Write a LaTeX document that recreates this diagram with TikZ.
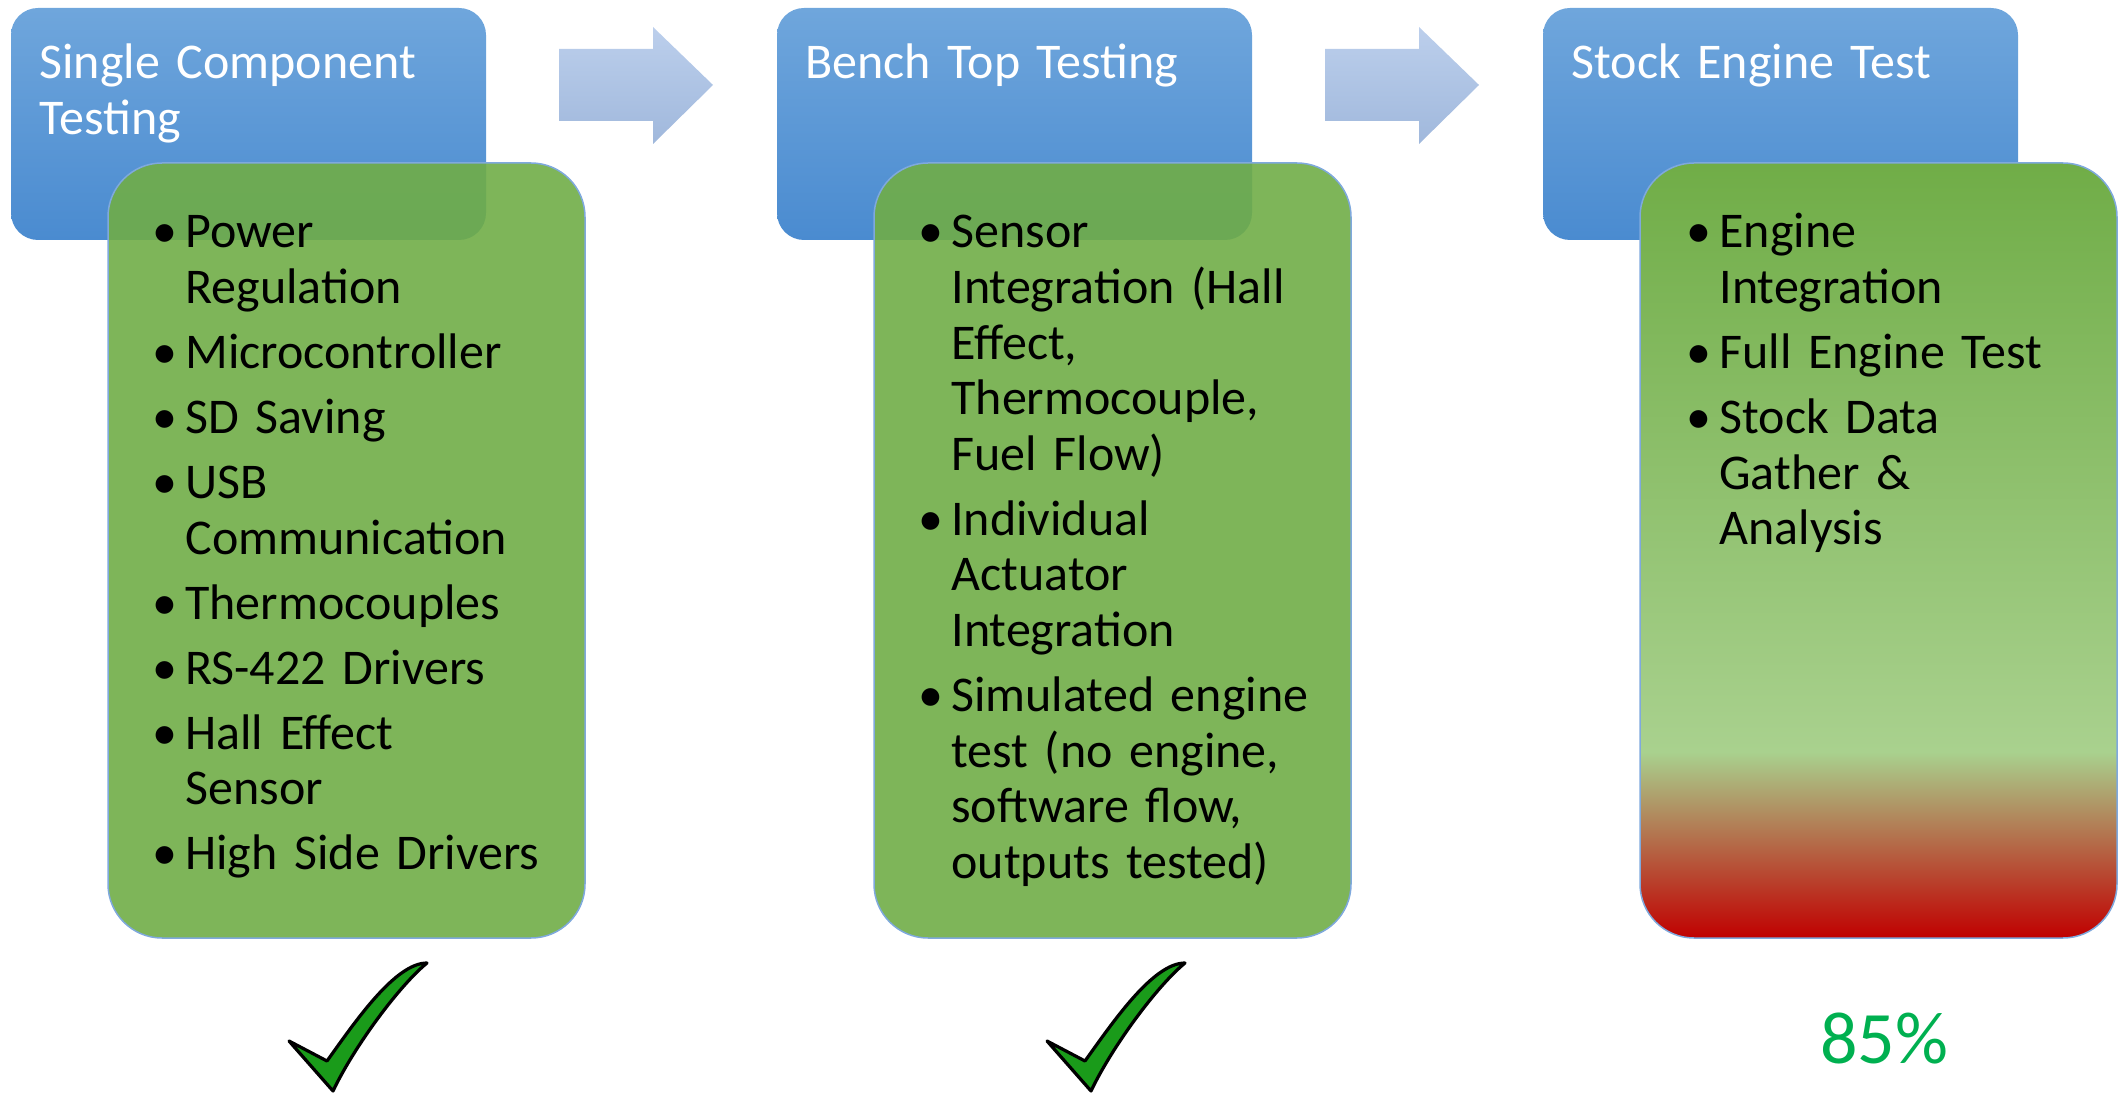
\documentclass[tikz,border=0pt]{standalone}
\usepackage{fontspec}
\setmainfont{Carlito}
\definecolor{blueTop}{HTML}{6FA6DC}
\definecolor{blueBot}{HTML}{4A8BD0}
\definecolor{greenF}{HTML}{70AD47}
\definecolor{greenBorder}{HTML}{7FA9DD}
\definecolor{arrTop}{HTML}{BCCFEC}
\definecolor{arrBot}{HTML}{A0B8DC}
\definecolor{sred}{HTML}{C00000}
\definecolor{slgreen}{HTML}{A9D18E}
\definecolor{sgreen}{HTML}{70AD47}
\definecolor{tickgreen}{HTML}{1A9B1A}
\definecolor{pctgreen}{HTML}{00B050}
\pgfdeclareverticalshading{engineshade}{100bp}{color(0bp)=(sred); color(25bp)=(sred); color(37bp)=(slgreen); color(75bp)=(sgreen); color(100bp)=(sgreen)}
\newcommand\nl{\hfil\break}
\newcommand\bitem[1]{\leavevmode\llap{\makebox[16.5pt][l]{\textbullet}}#1\par}
\newcommand\lstbody[1]{\setlength{\parskip}{4.7pt}\leftskip=16.5pt\relax#1}
\begin{document}
\begin{tikzpicture}[x=0.5pt,y=-0.5pt,
  bluebox/.style={rectangle, rounded corners=13.5pt, top color=blueTop, bottom color=blueBot,
    minimum width=237.5pt, minimum height=116pt, anchor=north west, inner sep=0pt, outer sep=0pt},
  greenbase/.style={rectangle, rounded corners=27pt, draw=greenBorder, line width=0.75pt,
    minimum width=238.5pt, minimum height=387.5pt, anchor=north west, inner sep=0pt, outer sep=0pt},
  greenbox/.style={greenbase, fill=greenF, fill opacity=0.9},
  redbox/.style={greenbase, shading=engineshade},
  titletext/.style={anchor=base west, inner sep=0pt, text width=230pt, align=left, text=white,
    font=\fontsize{25}{27.8}\selectfont},
  listtext/.style={anchor=base west, inner sep=0pt, text width=230pt,
    font=\fontsize{25}{27.8}\selectfont},
  blockarrow/.style={top color=arrTop, bottom color=arrBot, draw=none},
  pics/tickmark/.style={code={
    \draw[fill=tickgreen, draw=black, line width=1.6pt, line join=round]
      (0,0) -- (38,20) .. controls (66,-19) and (106,-78) .. (138,-78)
      .. controls (111,-56) and (66,4) .. (44,50) -- cycle;
  }}]
\useasboundingbox (0,0) rectangle (2125,1095);

% stage boxes
\node[bluebox] (b1) at (11,8) {};
\node[bluebox] (b2) at (777,8) {};
\node[bluebox] (b3) at (1543,8) {};

\node[titletext] (t1) at (39,79) {Single Component\\Testing};
\node[titletext] (t2) at (805,79) {Bench Top Testing};
\node[titletext] (t3) at (1571,79) {Stock Engine Test};

\node[greenbox] (g1) at (108,163) {};
\node[greenbox] (g2) at (874,163) {};
\node[redbox] (g3) at (1640,163) {};

% block arrows
\shade[blockarrow] (559,49) -- (653,49) -- (653,27) -- (713,85) -- (653,144) -- (653,121) -- (559,121) -- cycle;
\shade[blockarrow] (1325,49) -- (1419,49) -- (1419,27) -- (1479,85) -- (1419,144) -- (1419,121) -- (1325,121) -- cycle;

% lists
\node[listtext] (l1) at (152,248) {\lstbody{%
\bitem{Power\nl Regulation}%
\bitem{Microcontroller}%
\bitem{SD Saving}%
\bitem{USB\nl Communication}%
\bitem{Thermocouples}%
\bitem{RS-422 Drivers}%
\bitem{Hall Effect\nl Sensor}%
\bitem{High Side Drivers}}};

\node[listtext] (l2) at (918,248) {\lstbody{%
\bitem{Sensor\nl Integration (Hall\nl Effect,\nl Thermocouple,\nl Fuel Flow)}%
\bitem{Individual\nl Actuator\nl Integration}%
\bitem{Simulated engine\nl test (no engine,\nl software flow,\nl outputs tested)}}};

\node[listtext] (l3) at (1686,248) {\lstbody{%
\bitem{Engine\nl Integration}%
\bitem{Full Engine Test}%
\bitem{Stock Data\nl Gather \&\nl Analysis}}};

% status marks
\pic at (289,1041) {tickmark};
\pic at (1047,1041) {tickmark};
\node[anchor=base, inner sep=0pt, text=pctgreen, font=\fontsize{37}{44}\selectfont] (pct) at (1884,1063) {85\%};
\end{tikzpicture}
\end{document}
